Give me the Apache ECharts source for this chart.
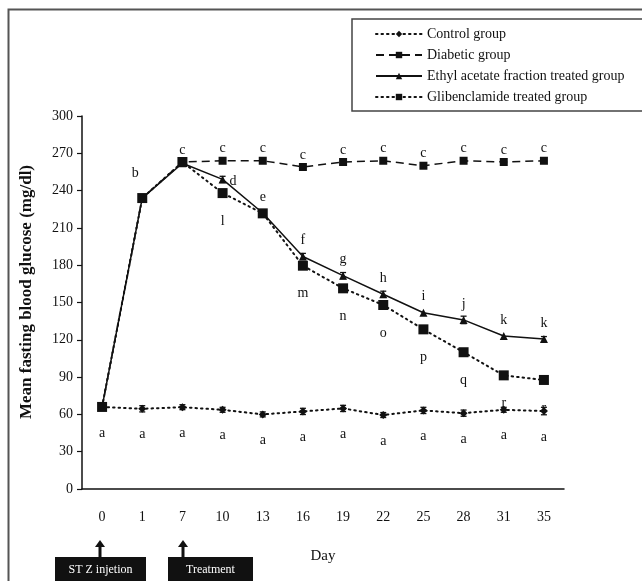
<!DOCTYPE html>
<html>
<head>
<meta charset="utf-8">
<script src="https://cdn.jsdelivr.net/npm/echarts@6/dist/echarts.min.js"></script>
<style>
html,body{margin:0;padding:0;background:#fff;}
#chart{width:642px;height:581px;}
</style>
</head>
<body>
<div id="chart"></div>
<script>
const days = ['0','1','7','10','13','16','19','22','25','28','31','35'];
const yTicks = [0,30,60,90,120,150,180,210,240,270,300];
const control = [66,64.5,65.8,63.7,60,62.4,64.8,59.5,63.2,61,63.7,62.7];
const controlErr = [2,2.5,2,2,2,2.5,2.5,2,2.5,2.5,2,3];
const diabetic = [66,234,263,264,264,259,263,264,260,264,263,264];
const ethyl = [66,234,262,249,222,187,171.6,156.6,141.8,136,123,120.6];
const ethylErr = [0,0,0,2.5,0,2.5,2.5,2.5,0,3,0,2];
const gliben = [66,234,263,238,221.7,179.6,161.4,148,128.4,110,91.4,87.7];
const controlLetters = ['a','a','a','a','a','a','a','a','a','a','a','a'];
const diabeticLetters = ['','','c','c','c','c','c','c','c','c','c','c'];
const ethylLetters = ['','b','','d','e','f','g','h','i','j','k','k'];
const glibenLetters = ['','','','l','','m','n','o','p','q','r','r'];
const seriesNames = ['Control group','Diabetic group','Ethyl acetate fraction treated group','Glibenclamide treated group'];
const yTitle = 'Mean fasting blood glucose (mg/dl)';

const FONT = '"Liberation Serif", "DejaVu Serif", serif';
const INK = '#111';

function withLabels(values, letters, labelBase, overrides) {
  return values.map((v, i) => {
    const item = { value: v, label: Object.assign({}, labelBase, { show: letters[i] !== '', formatter: letters[i] || '' }) };
    if (overrides && overrides[i]) Object.assign(item.label, overrides[i]);
    return item;
  });
}
const labelText = { color: INK, fontFamily: FONT, fontSize: 14 };

function errorSeries(values, errs) {
  return {
    type: 'custom',
    silent: true,
    z: 3,
    data: values.map((v, i) => [i, v, errs[i]]),
    renderItem: function (params, api) {
      const e = api.value(2);
      if (!e) return null;
      const x = api.value(0), y = api.value(1);
      const top = api.coord([x, y + e]);
      const bot = api.coord([x, y - e]);
      const w = 3;
      const st = { stroke: INK, lineWidth: 1.3 };
      return { type: 'group', children: [
        { type: 'line', shape: { x1: top[0], y1: top[1], x2: bot[0], y2: bot[1] }, style: st },
        { type: 'line', shape: { x1: top[0]-w, y1: top[1], x2: top[0]+w, y2: top[1] }, style: st },
        { type: 'line', shape: { x1: bot[0]-w, y1: bot[1], x2: bot[0]+w, y2: bot[1] }, style: st }
      ]};
    }
  };
}

const chart = echarts.init(document.getElementById('chart'));
const option = {
  backgroundColor: '#fff',
  animation: false,
  grid: { left: 82, right: 78, top: 116, bottom: 92 },
  legend: {
    orient: 'vertical',
    left: 370, top: 22,
    itemWidth: 46, itemHeight: 8, itemGap: 7,
    textStyle: { color: INK, fontFamily: FONT, fontSize: 14 },
    data: seriesNames
  },
  xAxis: {
    type: 'category',
    data: days,
    boundaryGap: true,
    name: 'Day', nameLocation: 'middle', nameGap: 60,
    nameTextStyle: { color: INK, fontFamily: FONT, fontSize: 15 },
    axisLine: { lineStyle: { color: INK, width: 1.5 } },
    axisTick: { show: false },
    axisLabel: { color: INK, fontFamily: FONT, fontSize: 14, margin: 21 }
  },
  yAxis: {
    type: 'value', min: 0, max: 300, interval: 30,
    splitLine: { show: false },
    axisLine: { show: true, lineStyle: { color: INK, width: 1.5 } },
    axisTick: { show: true, length: 5, lineStyle: { color: INK, width: 1.2 } },
    axisLabel: { color: INK, fontFamily: FONT, fontSize: 14, margin: 9,
      formatter: v => (yTicks.indexOf(v) >= 0 ? String(v) : '') }
  },
  series: [
    {
      name: seriesNames[0], type: 'line', z: 4,
      symbol: 'diamond', symbolSize: 8,
      itemStyle: { color: INK },
      lineStyle: { color: INK, width: 2, type: [1.5, 4], cap: 'round' },
      data: withLabels(control, controlLetters, Object.assign({ position: 'bottom', distance: 15 }, labelText))
    },
    {
      name: seriesNames[1], type: 'line', z: 5,
      symbol: 'rect', symbolSize: 8,
      itemStyle: { color: INK },
      lineStyle: { color: INK, width: 1.5, type: [8, 5] },
      data: withLabels(diabetic, diabeticLetters, Object.assign({ position: 'top', distance: 1 }, labelText))
    },
    {
      name: seriesNames[2], type: 'line', z: 6,
      symbol: 'triangle', symbolSize: 8,
      itemStyle: { color: INK },
      lineStyle: { color: INK, width: 1.5, type: 'solid' },
      data: withLabels(ethyl, ethylLetters, Object.assign({ position: 'top', distance: 5 }, labelText),
        { 1: { offset: [-7, -9] }, 3: { position: 'right', distance: 3, offset: [0, 2] } })
    },
    {
      name: seriesNames[3], type: 'line', z: 7,
      symbol: 'rect', symbolSize: 10,
      itemStyle: { color: INK },
      lineStyle: { color: INK, width: 2, type: [1.5, 4], cap: 'round' },
      data: withLabels(gliben, glibenLetters, Object.assign({ position: 'bottom', distance: 16 }, labelText))
    },
    errorSeries(control, controlErr),
    errorSeries(ethyl, ethylErr)
  ],
  graphic: [
    { type: 'text', silent: true, x: 27, y: 292, rotation: Math.PI / 2,
      style: { text: yTitle, fill: INK, font: 'bold 17px ' + FONT, textAlign: 'center', textVerticalAlign: 'middle' } },
    { type: 'polyline', silent: true, shape: { points: [[8.5, 600], [8.5, 9.5], [660, 9.5]] },
      style: { stroke: '#555', lineWidth: 2, fill: null } },
    { type: 'rect', silent: true, shape: { x: 352, y: 19, width: 320, height: 92 },
      style: { stroke: '#444', lineWidth: 1.5, fill: null } },
    { type: 'rect', silent: true, shape: { x: 55, y: 557, width: 91, height: 34 }, style: { fill: '#111' } },
    { type: 'text', silent: true, x: 100.5, y: 570, style: { text: 'ST Z injetion', fill: '#fff', font: '12px ' + FONT, textAlign: 'center', textVerticalAlign: 'middle' } },
    { type: 'rect', silent: true, shape: { x: 168, y: 557, width: 85, height: 34 }, style: { fill: '#111' } },
    { type: 'text', silent: true, x: 210.5, y: 570, style: { text: 'Treatment', fill: '#fff', font: '12px ' + FONT, textAlign: 'center', textVerticalAlign: 'middle' } },
    { type: 'line', silent: true, shape: { x1: 100, y1: 557, x2: 100, y2: 546 }, style: { stroke: '#111', lineWidth: 3 } },
    { type: 'polygon', silent: true, shape: { points: [[95, 547], [105, 547], [100, 540]] }, style: { fill: '#111' } },
    { type: 'line', silent: true, shape: { x1: 183, y1: 557, x2: 183, y2: 546 }, style: { stroke: '#111', lineWidth: 3 } },
    { type: 'polygon', silent: true, shape: { points: [[178, 547], [188, 547], [183, 540]] }, style: { fill: '#111' } }
  ]
};
chart.setOption(option);
</script>
</body>
</html>
